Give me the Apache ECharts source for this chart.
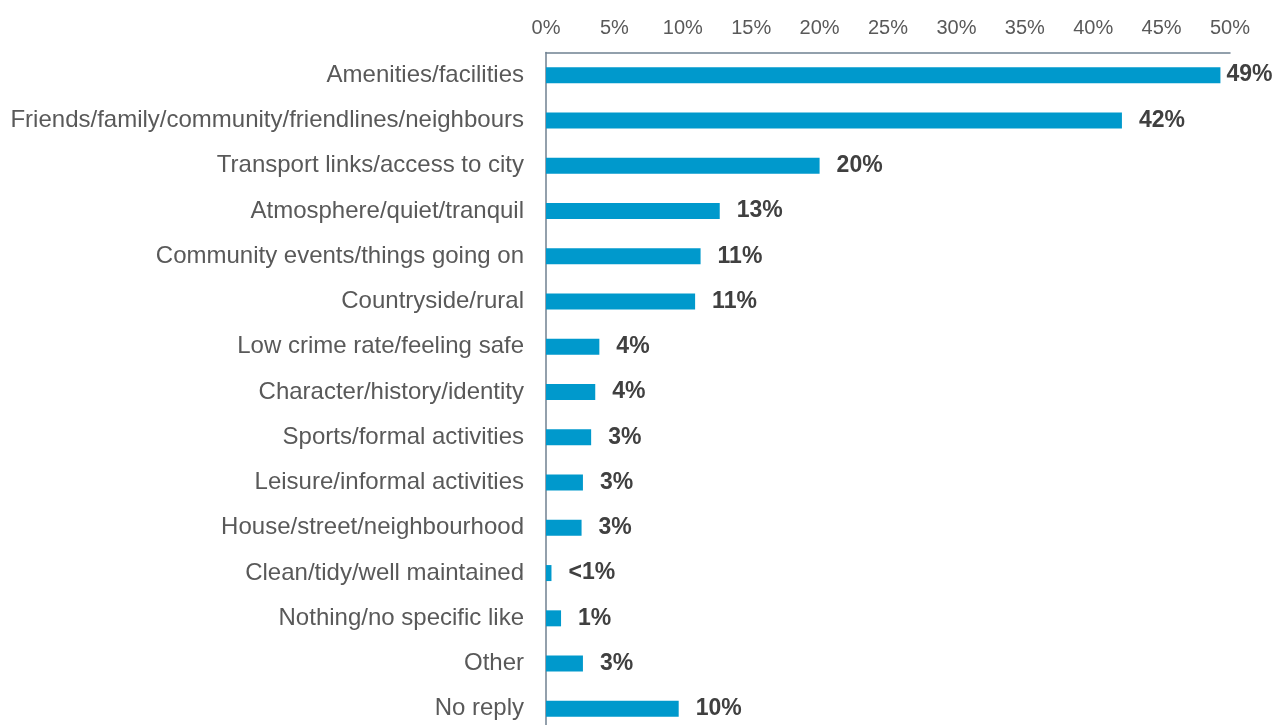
<!DOCTYPE html>
<html>
<head>
<meta charset="utf-8">
<style>
  html, body { margin: 0; padding: 0; background: #ffffff; }
  #chart { width: 1274px; height: 725px; }
</style>
<script src="https://cdn.jsdelivr.net/npm/echarts@6/dist/echarts.min.js"></script>
</head>
<body>
<div id="chart"></div>
<script>
// What residents like about the area (% of responses)
const categories = [
  'Amenities/facilities',
  'Friends/family/community/friendlines/neighbours',
  'Transport links/access to city',
  'Atmosphere/quiet/tranquil',
  'Community events/things going on',
  'Countryside/rural',
  'Low crime rate/feeling safe',
  'Character/history/identity',
  'Sports/formal activities',
  'Leisure/informal activities',
  'House/street/neighbourhood',
  'Clean/tidy/well maintained',
  'Nothing/no specific like',
  'Other',
  'No reply'
];
const shares = [49.3, 42.1, 20.0, 12.7, 11.3, 10.9, 3.9, 3.6, 3.3, 2.7, 2.6, 0.4, 1.1, 2.7, 9.7];
const tickValues = [0, 5, 10, 15, 20, 25, 30, 35, 40, 45, 50];

const axisGrey = '#6f8191';
const textGrey = '#595959';
const fontFamily = 'Liberation Sans, Arial, sans-serif';

function shareLabel(v) {
  return v < 1 ? '<1%' : Math.round(v) + '%';
}

const chart = echarts.init(document.getElementById('chart'));
chart.setOption({
  animation: false,
  grid: { left: 546, top: 52.5, width: 684, height: 679, outerBoundsMode: 'none' },
  xAxis: {
    type: 'value',
    position: 'top',
    min: tickValues[0],
    max: tickValues[tickValues.length - 1],
    interval: 5,
    axisLine: { show: true, lineStyle: { color: axisGrey, width: 1.5 } },
    axisTick: { show: false },
    splitLine: { show: false },
    axisLabel: {
      color: textGrey,
      fontFamily: fontFamily,
      fontSize: 20,
      margin: 14,
      formatter: v => v + '%'
    }
  },
  yAxis: {
    type: 'category',
    inverse: true,
    data: categories,
    axisLine: { show: true, lineStyle: { color: axisGrey, width: 1.5 } },
    axisTick: { show: false },
    axisLabel: {
      color: textGrey,
      fontFamily: fontFamily,
      fontSize: 24,
      margin: 22,
      padding: [4, 0, 0, 0]
    }
  },
  series: [{
    type: 'bar',
    barWidth: 16,
    data: shares.map((v, i) => i === 0
      ? { value: v, label: { distance: 6 } }
      : v),
    itemStyle: { color: '#0099cc' },
    label: {
      show: true,
      position: 'right',
      distance: 17,
      color: '#404040',
      fontFamily: fontFamily,
      fontWeight: 'bold',
      fontSize: 23,
      padding: [4, 0, 0, 0],
      formatter: p => shareLabel(p.value)
    }
  }]
});
</script>
</body>
</html>
